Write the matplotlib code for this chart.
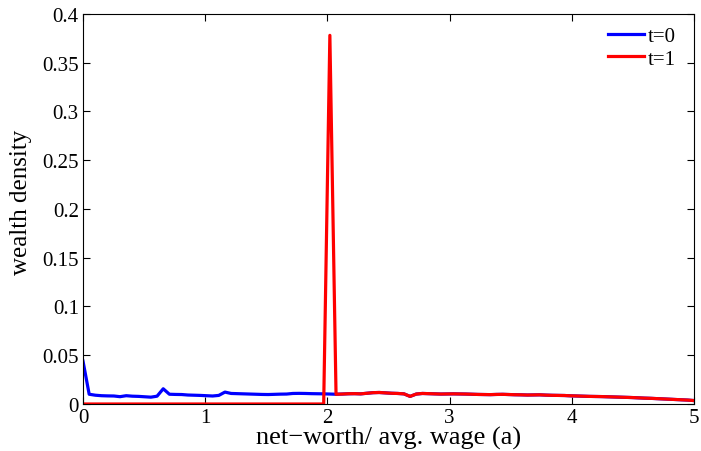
import numpy as np
import matplotlib
matplotlib.use("Agg")
import matplotlib.pyplot as plt

plt.rcParams['font.family'] = ['Liberation Serif', 'DejaVu Serif']

x_min, x_max, n_pts = 0.0, 5.0, 100
x = np.linspace(x_min, x_max, n_pts)

density_t0 = [
    0.0440, 0.0100, 0.0090, 0.0085, 0.0083, 0.0082, 0.0075, 0.0085, 0.0080, 0.0078,
    0.0074, 0.0070, 0.0080, 0.0156, 0.0100, 0.0098, 0.0097, 0.0092, 0.0090, 0.0088,
    0.0085, 0.0082, 0.0088, 0.0122, 0.0108, 0.0106, 0.0104, 0.0102, 0.0100, 0.0098,
    0.0097, 0.0099, 0.0101, 0.0102, 0.0108, 0.0109, 0.0108, 0.0106, 0.0105, 0.0104,
    0.0102, 0.0100, 0.0102, 0.0105, 0.0106, 0.0104, 0.0110, 0.0116, 0.0118, 0.0114,
    0.0110, 0.0108, 0.0104, 0.0078, 0.0102, 0.0108, 0.0106, 0.0104, 0.0102, 0.0103,
    0.0104, 0.0103, 0.0102, 0.0100, 0.0098, 0.0097, 0.0096, 0.0098, 0.0099, 0.0097,
    0.0095, 0.0094, 0.0092, 0.0093, 0.0094, 0.0091, 0.0089, 0.0088, 0.0087, 0.0084,
    0.0082, 0.0080, 0.0078, 0.0077, 0.0076, 0.0074, 0.0072, 0.0070, 0.0068, 0.0066,
    0.0063, 0.0060, 0.0058, 0.0055, 0.0052, 0.0049, 0.0046, 0.0043, 0.0040, 0.0035,
]

density_t1 = [0.0] * 40 + [0.378] + [
    0.0100, 0.0102, 0.0105, 0.0106, 0.0104, 0.0110, 0.0116, 0.0118, 0.0114,
    0.0110, 0.0108, 0.0104, 0.0078, 0.0102, 0.0108, 0.0106, 0.0104, 0.0102, 0.0103,
    0.0104, 0.0103, 0.0102, 0.0100, 0.0098, 0.0097, 0.0096, 0.0098, 0.0099, 0.0097,
    0.0095, 0.0094, 0.0092, 0.0093, 0.0094, 0.0091, 0.0089, 0.0088, 0.0087, 0.0084,
    0.0082, 0.0080, 0.0078, 0.0077, 0.0076, 0.0074, 0.0072, 0.0070, 0.0068, 0.0066,
    0.0063, 0.0060, 0.0058, 0.0055, 0.0052, 0.0049, 0.0046, 0.0043, 0.0040, 0.0035,
]

series_labels = ["t=0", "t=1"]
x_ticks = [0, 1, 2, 3, 4, 5]
y_ticks = [0, 0.05, 0.1, 0.15, 0.2, 0.25, 0.3, 0.35, 0.4]
y_tick_labels = ["0", "0.05", "0.1", "0.15", "0.2", "0.25", "0.3", "0.35", "0.4"]

fig = plt.figure(figsize=(7.01, 4.52), dpi=100)
ax = fig.add_axes([0.1184, 0.104, 0.8716, 0.863])

ax.plot(x, density_t0, color='#0000ff', lw=2.3, label=series_labels[0])
ax.plot(x, density_t1, color='#ff0000', lw=2.3, label=series_labels[1])

ax.set_xlim(0, 5)
ax.set_ylim(0, 0.4)
ax.set_xticks(x_ticks)
ax.set_yticks(y_ticks)
ax.set_yticklabels(y_tick_labels)
ax.tick_params(direction='in', top=True, right=True, labelsize=15, length=5, width=0.8, pad=3)
for s in ax.spines.values():
    s.set_linewidth(0.8)

ax.set_xlabel("net\u2212worth/ avg. wage (a)", fontsize=19, labelpad=-1)
ax.set_ylabel("wealth density", fontsize=18)
ax.yaxis.set_label_coords(-0.083, 0.52)

ax.legend(loc='upper right', frameon=False, fontsize=15, handlelength=1.75,
          handletextpad=0.15, borderaxespad=0.2, labelspacing=0.15,
          bbox_to_anchor=(0.99, 1.0))

fig.savefig("out.png", dpi=100)
